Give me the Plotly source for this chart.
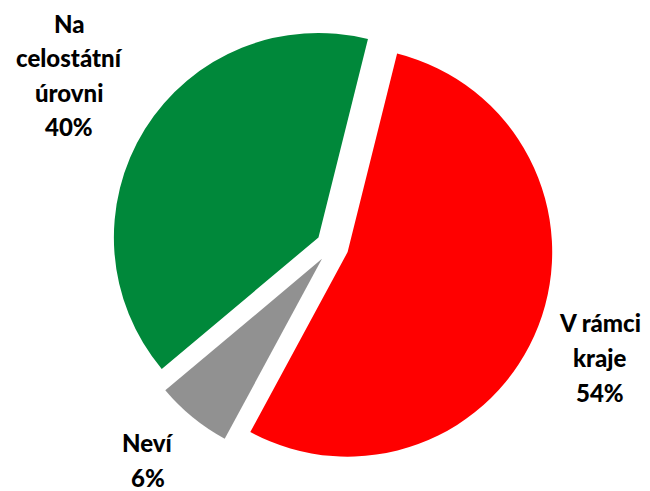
import plotly.graph_objects as go

categories = ["V rámci kraje", "Neví", "Na celostátní úrovni"]
label_lines = [["V rámci", "kraje"], ["Neví"], ["Na", "celostátní", "úrovni"]]
values = [54, 6, 40]
colors = ["#FF0000", "#919191", "#00883A"]

W, H = 650, 491

fig = go.Figure(go.Pie(
    labels=categories,
    values=values,
    sort=False,
    direction="clockwise",
    rotation=14,
    pull=[0.08, 0.08, 0.08],
    marker=dict(colors=colors, line=dict(width=0)),
    textinfo="none",
    hoverinfo="label+percent",
    showlegend=False,
    domain=dict(x=[0.159, 0.839], y=[0.065, 0.965]),
))

# label block anchors (centre x, first-line y, line step) in pixels
label_anchor = [(592, 314, 35), (140, 434, 35), (61, 15, 34.5)]
font = dict(family="Lato, Open Sans, Arial", size=24, color="black", weight=900)
for lines, v, (cx, y0, step) in zip(label_lines, values, label_anchor):
    for i, line in enumerate(lines + [f"{v}%"]):
        fig.add_annotation(x=cx / W, y=1 - (y0 + i * step) / H,
                           xref="paper", yref="paper", text=line,
                           showarrow=False, font=font, align="center",
                           borderpad=0,
                           xanchor="center", yanchor="middle")

fig.update_layout(
    width=W, height=H,
    margin=dict(l=0, r=0, t=0, b=0),
    paper_bgcolor="white", plot_bgcolor="white",
)
fig.write_html("out.html")
